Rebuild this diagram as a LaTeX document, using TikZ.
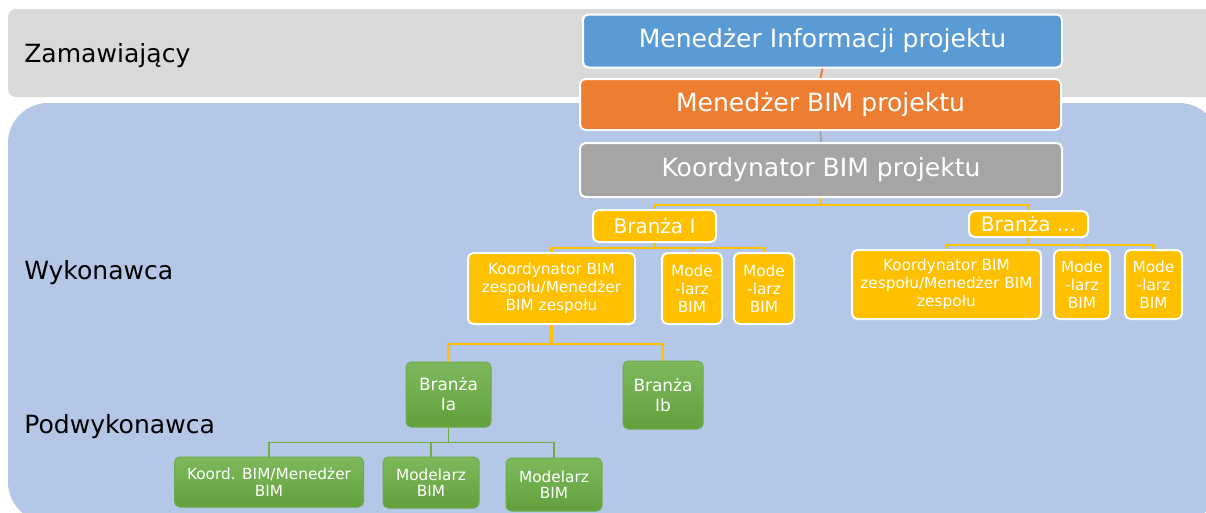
\documentclass[tikz,border=0pt]{standalone}
\usepackage{fontspec}
\setmainfont{DejaVu Sans}
\usetikzlibrary{calc}

\definecolor{bandgray}{HTML}{D9D9D9}
\definecolor{panelblue}{HTML}{B4C7E7}
\definecolor{infoblue}{HTML}{5B9BD5}
\definecolor{bimorange}{HTML}{ED7D31}
\definecolor{coordgray}{HTML}{A5A5A5}
\definecolor{teamyellow}{HTML}{FFC000}
\definecolor{subgreen}{HTML}{70AD47}
\definecolor{greentop}{HTML}{7DB95C}
\definecolor{greenbot}{HTML}{62A03C}
\definecolor{greenedge}{HTML}{6DAC49}

\tikzset{
  sz/.style 2 args={minimum width=#1, minimum height=#2},
  box/.style={draw=white, line width=1.5pt, rounded corners=4pt, text=white,
    align=center, inner sep=0pt},
  topbox/.style={box, font=\fontsize{18.8}{22}\selectfont},
  branchbox/.style={box, fill=teamyellow, font=\fontsize{15}{18}\selectfont},
  rolebox/.style={box, fill=teamyellow, font=\fontsize{11.5}{13.5}\selectfont},
  subbox/.style={draw=greenedge, line width=0.75pt, rounded corners=4pt,
    top color=greentop, bottom color=greenbot, text=white, align=center,
    inner sep=0pt},
  subbranch/.style={subbox, font=\fontsize{12.7}{15}\selectfont},
  subrole/.style={subbox, font=\fontsize{11.5}{12.5}\selectfont},
  sidelabel/.style={anchor=base west, inner sep=0pt, text=black,
    font=\fontsize{18.8}{22}\selectfont},
  yline/.style={draw=teamyellow, line width=2pt},
  gline/.style={draw=subgreen, line width=1pt},
}

\begin{document}
\begin{tikzpicture}[x=0.75pt, y=-0.75pt]
  \useasboundingbox (0,0) rectangle (1206,512);
  \clip (0,0) rectangle (1206,512);

  % organisational bands
  \fill[bandgray, rounded corners=6pt] (8,9) rectangle (1224,97);
  \fill[panelblue, rounded corners=30pt] (8,103) rectangle (1219,522);

  % band labels
  \node[sidelabel] (lzam) at (24,62) {Zamawiający};
  \node[sidelabel] (lwyk) at (24,279) {Wykonawca};
  \node[sidelabel] (lpod) at (24,433) {Podwykonawca};

  % project level
  \node[topbox, fill=infoblue, sz={359.25pt}{39.75pt}] (info) at (822.5,41)
    {Menedżer Informacji projektu};
  \node[topbox, fill=bimorange, sz={360.75pt}{38.25pt}] (bimm) at (820.5,104.5)
    {Menedżer BIM projektu};
  \node[topbox, fill=coordgray, sz={361.5pt}{40.5pt}] (koord) at (821,170)
    {Koordynator BIM projektu};

  % disciplines
  \node[branchbox, sz={92.25pt}{24pt}] (b1) at (654.5,226) {Branża I};
  \node[branchbox, sz={89.25pt}{19.5pt}] (b2) at (1028.5,224) {Branża ...};

  % discipline teams
  \node[rolebox, sz={125.25pt}{53.25pt}] (k1) at (551.5,288.5)
    {Koordynator BIM\\zespołu/Menedżer\\BIM zespołu};
  \node[rolebox, sz={45pt}{53.25pt}] (m11) at (692,288.5) {Mode\\-larz\\BIM};
  \node[rolebox, sz={45pt}{53.25pt}] (m12) at (764,288.5) {Mode\\-larz\\BIM};

  \node[rolebox, sz={141.75pt}{51.75pt}] (k2) at (946.5,284.5)
    {Koordynator BIM\\zespołu/Menedżer BIM\\zespołu};
  \node[rolebox, sz={42pt}{51.75pt}] (m21) at (1082,284.5) {Mode\\-larz\\BIM};
  \node[rolebox, sz={42.75pt}{51.75pt}] (m22) at (1153.5,284.5) {Mode\\-larz\\BIM};

  % subcontractor disciplines
  \node[subbranch, sz={63.75pt}{48.75pt}] (ia) at (448.5,394.5) {Branża\\Ia};
  \node[subbranch, sz={60pt}{51pt}] (ib) at (663,395) {Branża\\Ib};

  % subcontractor team
  \node[subrole, sz={141.75pt}{37.5pt}] (g1) at (269,482) {Koord. BIM/Menedżer\\BIM};
  \node[subrole, sz={72pt}{38.25pt}] (g2) at (431,482.5) {Modelarz\\BIM};
  \node[subrole, sz={72pt}{39.75pt}] (g3) at (554,484.5) {Modelarz\\BIM};

  % connectors
  \draw[draw=bimorange, line width=1.5pt] (info.south) -- (bimm.north);
  \draw[draw=coordgray, line width=1.5pt] (bimm.south) -- (koord.north);

  \draw[yline] (koord.south) -- ++(0,7) -| (b1.north);
  \draw[yline] (koord.south) -- ++(0,7) -| (b2.north);

  \draw[yline] (b1.south) -- ++(0,5) -| (k1.north);
  \draw[yline] (b1.south) -- ++(0,5) -| (m11.north);
  \draw[yline] (b1.south) -- ++(0,5) -| (m12.north);

  \draw[yline] (b2.south) -- ++(0,7) -| (k2.north);
  \draw[yline] (b2.south) -- ++(0,7) -| (m21.north);
  \draw[yline] (b2.south) -- ++(0,7) -| (m22.north);

  \draw[yline] (k1.south) -- ++(0,19) -| (ia.north);
  \draw[yline] (k1.south) -- ++(0,19) -| (ib.north);

  \draw[gline] (ia.south) -- ++(0,15) -| (g1.north);
  \draw[gline] (ia.south) -- ++(0,15) -| (g2.north);
  \draw[gline] (ia.south) -- ++(0,15) -| (g3.north);
\end{tikzpicture}
\end{document}
